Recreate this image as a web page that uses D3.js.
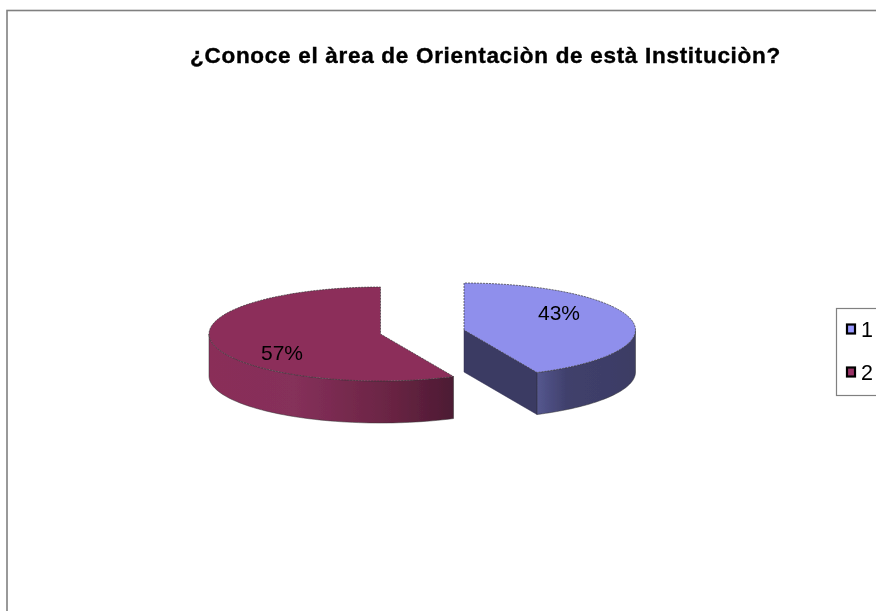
<!DOCTYPE html>
<html><head><meta charset="utf-8">
<style>html,body{margin:0;padding:0;background:#fff}svg{display:block}text{font-family:"Liberation Sans",Arial,sans-serif;fill:#000}</style>
<script src="https://cdn.jsdelivr.net/npm/d3@7/dist/d3.min.js"></script>
</head><body><svg id="c" width="876" height="611"></svg>
<script>
const title = "¿Conoce el àrea de Orientaciòn de està Instituciòn?";
const categories = ["1","2"];
const values = [43,57];
const labels = ["43%","57%"];
const topColors = ["#8f8fec","#8c2e5a"];
const legendColors = ["#9999ff","#993366"];

const svg = d3.select("#c");
const defs = svg.append("defs");
const soft = defs.append("filter").attr("id","soft").attr("x","-5%").attr("y","-5%").attr("width","110%").attr("height","110%");
soft.append("feGaussianBlur").attr("stdDeviation",0.45);
function grad(id,stops){
  const g = defs.append("linearGradient").attr("id",id).attr("x1",0).attr("x2",1).attr("y1",0).attr("y2",0);
  stops.forEach(([o,c])=>g.append("stop").attr("offset",o).attr("stop-color",c));
}
grad("wall0",[[0,"#55578f"],[0.3,"#40406c"],[1,"#3c3c64"]]);
grad("wall1",[[0,"#8a2d59"],[0.35,"#85305a"],[0.75,"#692443"],[1,"#4c1a33"]]);

// frame
svg.append("rect").attr("x",7).attr("y",10.5).attr("width",880).attr("height",620)
  .attr("fill","#fff").attr("stroke","#808080").attr("stroke-width",1.6);

svg.append("g").attr("filter","url(#soft)").append("text")
  .attr("x",485.5).attr("y",62.5).attr("text-anchor","middle")
  .attr("font-size",22.5).attr("font-weight","bold").attr("letter-spacing",0.7)
  .attr("stroke","#000").attr("stroke-width",0.4).text(title);

const rx = 171.5, ry = 47, depth = 42;
const centers = [[464,330],[380.5,334]];
const pie = d3.pie().sort(null).value(d=>d)(values);
const pt = (c,a,dy=0)=>[c[0]+rx*Math.sin(a), c[1]-ry*Math.cos(a)+dy];
const arcPts = (c,a0,a1,dy=0)=>d3.range(0,61).map(i=>pt(c,a0+(a1-a0)*i/60,dy));
const line = d3.line();

const g = svg.append("g").attr("filter","url(#soft)");
pie.forEach((p,i)=>{
  const c = centers[i];
  const sg = g.append("g");
  const w0 = Math.max(p.startAngle,Math.PI/2), w1 = Math.min(p.endAngle,Math.PI*1.5);
  if(i===0){ // cut face on the closing edge
    const e = pt(c,p.endAngle);
    sg.append("path").attr("d",line([c,e,[e[0],e[1]+depth],[c[0],c[1]+depth]])+"Z")
      .attr("fill","#3b3a63").attr("stroke","#2c2c4c").attr("stroke-width",0.5);
  }
  const wall = arcPts(c,w0,w1).concat(arcPts(c,w1,w0,depth));
  sg.append("path").attr("d",line(wall)+"Z").attr("fill",`url(#wall${i})`)
    .attr("stroke","#333").attr("stroke-width",0.5);
  const top = [c].concat(arcPts(c,p.startAngle,p.endAngle));
  sg.append("path").attr("d",line(top)+"Z").attr("fill",topColors[i])
    .attr("stroke","#3a3a3a").attr("stroke-width",0.7).attr("stroke-dasharray","2 1");
});

const labelPos = [[559,320],[282,360]];
labels.forEach((t,i)=>g.append("text").attr("x",labelPos[i][0]).attr("y",labelPos[i][1])
  .attr("text-anchor","middle").attr("font-size",21).text(t));

// legend
const leg = svg.append("g").attr("filter","url(#soft)");
leg.append("rect").attr("x",836.5).attr("y",308.5).attr("width",60).attr("height",87)
  .attr("fill","#fff").attr("stroke","#808080").attr("stroke-width",1.2);
const ly = d3.scalePoint().domain(categories).range([329,372]);
categories.forEach((k,i)=>{
  leg.append("rect").attr("x",847).attr("y",ly(k)-4.5).attr("width",8).attr("height",9)
    .attr("fill",legendColors[i]).attr("stroke","#000").attr("stroke-width",2.2);
  leg.append("text").attr("x",861).attr("y",ly(k)+8).attr("font-size",21.5).text(k);
});
</script></body></html>
